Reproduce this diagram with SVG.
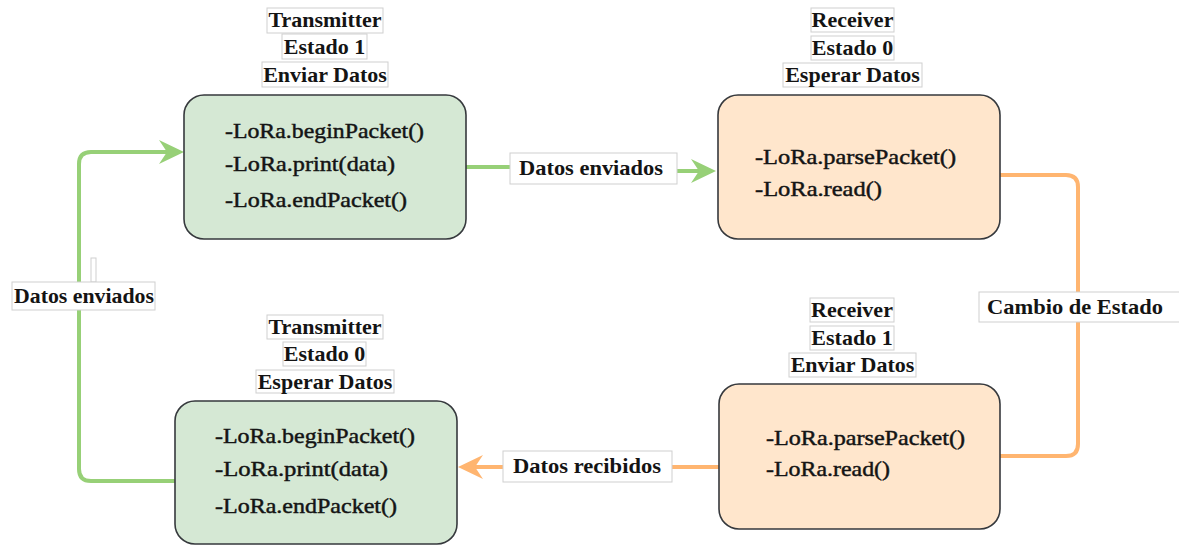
<svg xmlns="http://www.w3.org/2000/svg" width="1179" height="545" viewBox="0 0 1179 545">
  <defs>
    <style>
      .box-green { fill: #d5e8d4; stroke: #36393d; stroke-width: 1.6; }
      .box-orange { fill: #ffe6cc; stroke: #36393d; stroke-width: 1.6; }
      .tag { fill: #ffffff; stroke: #cfcfcf; stroke-width: 1; }
      .title { font-family: "Liberation Serif", "Times New Roman", serif; font-weight: bold; font-size: 22px; fill: #141414; text-anchor: middle; }
      .body { font-family: "Liberation Serif", "Times New Roman", serif; font-weight: normal; font-size: 21px; fill: #141414; stroke: #141414; stroke-width: 0.45; }
      .label { font-family: "Liberation Serif", "Times New Roman", serif; font-weight: bold; font-size: 22px; fill: #141414; }
      .wire-green { fill: none; stroke: #97d077; stroke-width: 4; }
      .wire-orange { fill: none; stroke: #ffb570; stroke-width: 4; }
    </style>
    <marker id="arrow-green" viewBox="0 0 25 24" refX="8" refY="12" markerWidth="25" markerHeight="24" markerUnits="userSpaceOnUse" orient="auto">
      <path d="M25,12 L0,0 L8,12 L0,24 Z" fill="#97d077"/>
    </marker>
    <marker id="arrow-orange" viewBox="0 0 25 24" refX="8" refY="12" markerWidth="25" markerHeight="24" markerUnits="userSpaceOnUse" orient="auto">
      <path d="M25,12 L0,0 L8,12 L0,24 Z" fill="#ffb570"/>
    </marker>
  </defs>

  <rect width="1179" height="545" fill="#ffffff"/>

  <!-- connectors -->
  <g id="connectors">
    <!-- Transmitter 1 -> Receiver 0 -->
    <path class="wire-green" d="M466,167 H592 V171 H699" marker-end="url(#arrow-green)"/>
    <!-- Receiver 0 -> Receiver 1 -->
    <path class="wire-orange" d="M1000,175 H1066 Q1078,175 1078,187 V444 Q1078,456 1066,456 H1000"/>
    <!-- Receiver 1 -> Transmitter 0 -->
    <path class="wire-orange" d="M719,467 H475" marker-end="url(#arrow-orange)"/>
    <!-- Transmitter 0 -> Transmitter 1 -->
    <path class="wire-green" d="M175,481 H91 Q79,481 79,469 V164 Q79,152 91,152 H167" marker-end="url(#arrow-green)"/>

    <g id="label-enviados-top">
      <rect class="tag" x="510" y="153" width="167" height="31"/>
      <text class="label" x="519" y="175" textLength="144" lengthAdjust="spacingAndGlyphs">Datos enviados</text>
    </g>
    <g id="label-cambio">
      <rect class="tag" x="979" y="292" width="210" height="30"/>
      <text class="label" x="987" y="314" textLength="176" lengthAdjust="spacingAndGlyphs">Cambio de Estado</text>
    </g>
    <g id="label-recibidos">
      <rect class="tag" x="503" y="451" width="169" height="31"/>
      <text class="label" x="513" y="473" textLength="148" lengthAdjust="spacingAndGlyphs">Datos recibidos</text>
    </g>
    <g id="label-enviados-left">
      <rect class="tag" x="91" y="258" width="5" height="24"/>
      <rect class="tag" x="12" y="282" width="143" height="28"/>
      <text class="label" x="14" y="303" textLength="140" lengthAdjust="spacingAndGlyphs">Datos enviados</text>
    </g>
  </g>

  <!-- Transmitter, state 1 -->
  <g id="tx-estado-1">
    <rect class="tag" x="267" y="8" width="116" height="25"/>
    <text class="title" x="325" y="27">Transmitter</text>
    <rect class="tag" x="282" y="34" width="85" height="25"/>
    <text class="title" x="324.5" y="54">Estado 1</text>
    <rect class="tag" x="262" y="62" width="126" height="25"/>
    <text class="title" x="325" y="82">Enviar Datos</text>
    <rect class="box-green" x="184" y="95" width="282" height="144" rx="20" ry="20"/>
    <text class="body" x="225" y="138" textLength="199" lengthAdjust="spacingAndGlyphs">-LoRa.beginPacket()</text>
    <text class="body" x="225" y="171" textLength="170" lengthAdjust="spacingAndGlyphs">-LoRa.print(data)</text>
    <text class="body" x="225" y="207" textLength="182" lengthAdjust="spacingAndGlyphs">-LoRa.endPacket()</text>
  </g>

  <!-- Receiver, state 0 -->
  <g id="rx-estado-0">
    <rect class="tag" x="811" y="8" width="83" height="24"/>
    <text class="title" x="852.5" y="27">Receiver</text>
    <rect class="tag" x="811" y="36" width="83" height="24"/>
    <text class="title" x="852.5" y="55">Estado 0</text>
    <rect class="tag" x="783" y="63" width="139" height="24"/>
    <text class="title" x="852.5" y="82">Esperar Datos</text>
    <rect class="box-orange" x="718" y="95" width="282" height="144" rx="20" ry="20"/>
    <text class="body" x="755" y="164" textLength="201" lengthAdjust="spacingAndGlyphs">-LoRa.parsePacket()</text>
    <text class="body" x="755" y="196" textLength="127" lengthAdjust="spacingAndGlyphs">-LoRa.read()</text>
  </g>

  <!-- Receiver, state 1 -->
  <g id="rx-estado-1">
    <rect class="tag" x="810" y="298" width="84" height="24"/>
    <text class="title" x="852" y="317">Receiver</text>
    <rect class="tag" x="810" y="326" width="84" height="24"/>
    <text class="title" x="852" y="345">Estado 1</text>
    <rect class="tag" x="789" y="353" width="127" height="24"/>
    <text class="title" x="852.5" y="372">Enviar Datos</text>
    <rect class="box-orange" x="719" y="384" width="281" height="145" rx="20" ry="20"/>
    <text class="body" x="766" y="445" textLength="199" lengthAdjust="spacingAndGlyphs">-LoRa.parsePacket()</text>
    <text class="body" x="766" y="476" textLength="124" lengthAdjust="spacingAndGlyphs">-LoRa.read()</text>
  </g>

  <!-- Transmitter, state 0 -->
  <g id="tx-estado-0">
    <rect class="tag" x="267" y="315" width="116" height="24"/>
    <text class="title" x="325" y="334">Transmitter</text>
    <rect class="tag" x="283" y="342" width="83" height="24"/>
    <text class="title" x="324.5" y="361">Estado 0</text>
    <rect class="tag" x="256" y="370" width="138" height="23"/>
    <text class="title" x="325" y="389">Esperar Datos</text>
    <rect class="box-green" x="175" y="401" width="282" height="143" rx="20" ry="20"/>
    <text class="body" x="215" y="443" textLength="200" lengthAdjust="spacingAndGlyphs">-LoRa.beginPacket()</text>
    <text class="body" x="215" y="476" textLength="173" lengthAdjust="spacingAndGlyphs">-LoRa.print(data)</text>
    <text class="body" x="215" y="513" textLength="182" lengthAdjust="spacingAndGlyphs">-LoRa.endPacket()</text>
  </g>
</svg>
